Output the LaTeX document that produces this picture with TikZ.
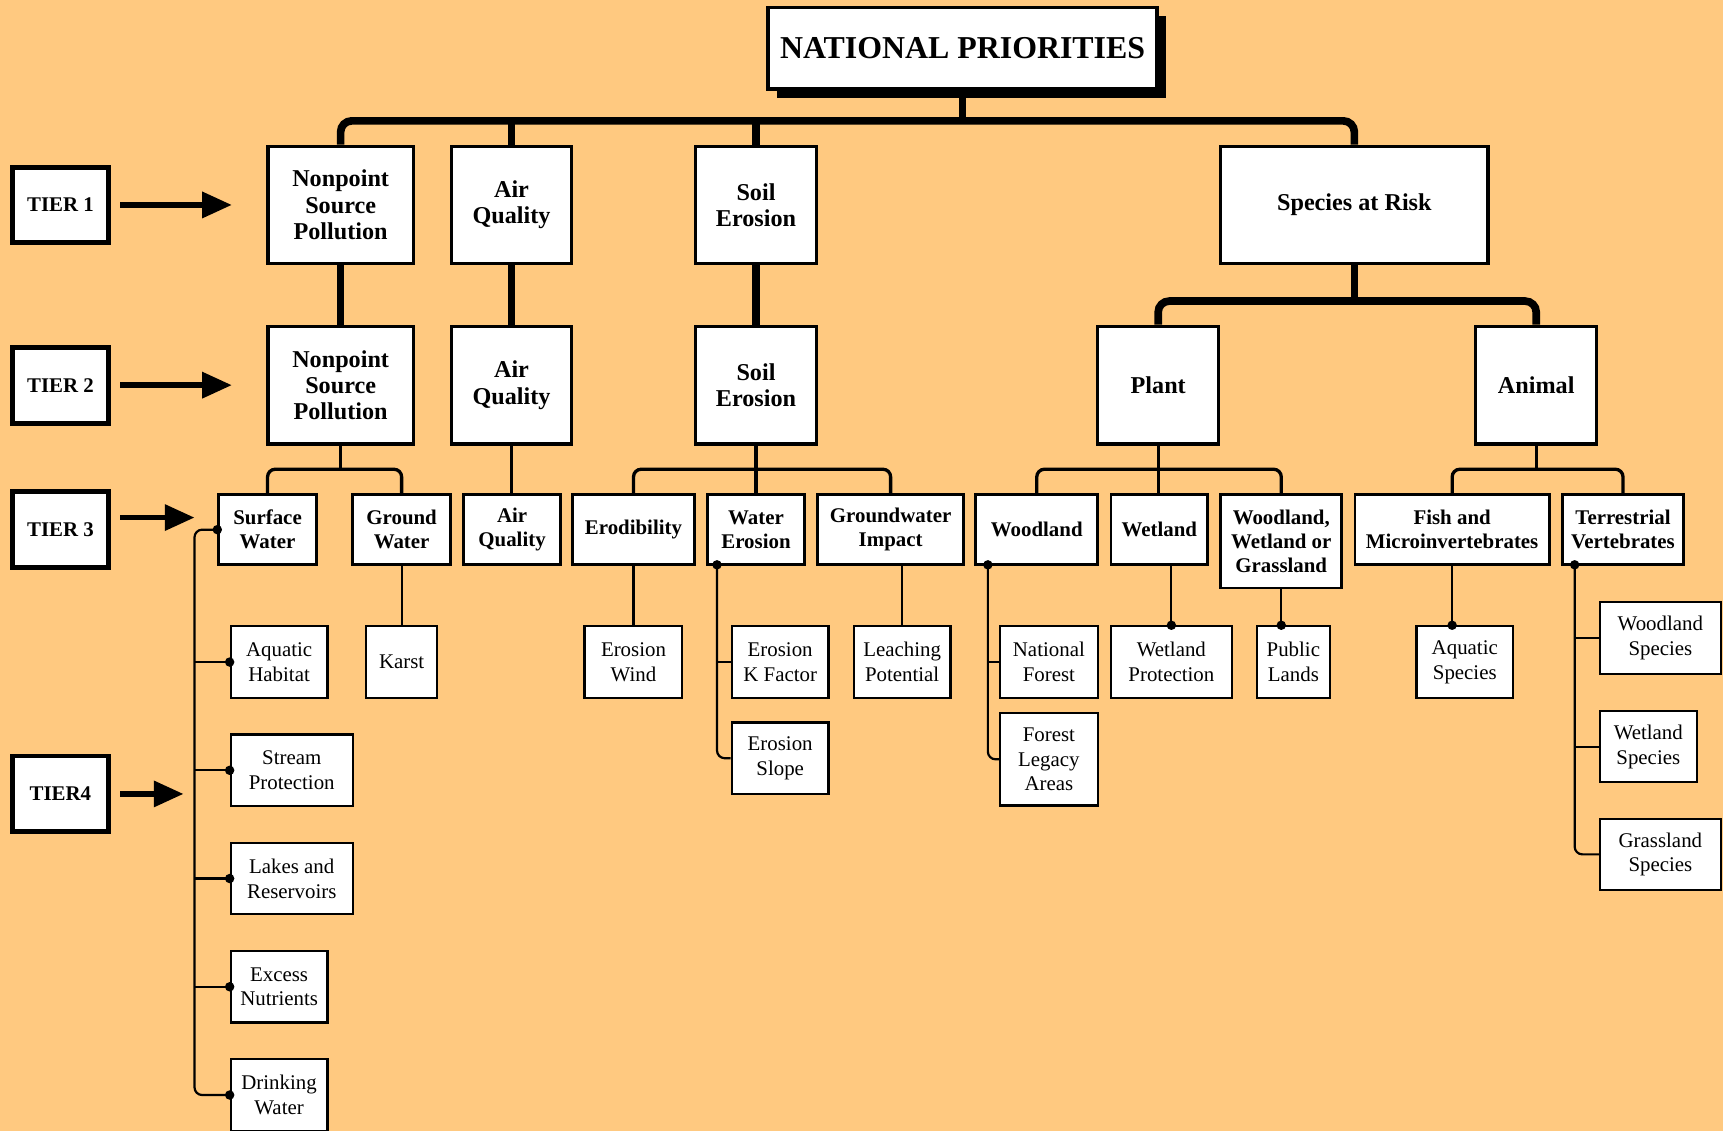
\documentclass[tikz,border=0pt]{standalone}
\usepackage{fontspec}
\setmainfont{Liberation Serif}
\usetikzlibrary{arrows.meta,shadows}
\definecolor{bgorange}{RGB}{255,201,128}
\begin{document}
\begin{tikzpicture}[x=1pt,y=-1pt]
	\tikzstyle{titlebox}=[draw, line width=3pt, fill=white, minimum width=354pt, minimum height=74pt, inner sep=0pt, font=\fontsize{29}{32}\selectfont\bfseries, drop shadow={shadow xshift=8pt, shadow yshift=-8pt, fill=black, opacity=1}]
	\tikzstyle{bigbox}=[draw, line width=3pt, fill=white, minimum height=107pt, inner sep=0pt, align=center, font=\fontsize{22}{24}\selectfont\bfseries]
	\tikzstyle{midbox}=[draw, line width=2.5pt, fill=white, minimum height=64pt, inner sep=0pt, align=center, font=\fontsize{19}{22}\selectfont\bfseries]
	\tikzstyle{smallbox}=[draw, line width=2pt, fill=white, minimum height=65pt, inner sep=0pt, align=center, font=\fontsize{19}{22.5}\selectfont]
	\tikzstyle{tierbox}=[draw, line width=4.5pt, fill=white, minimum width=88pt, minimum height=69pt, inner sep=0pt, font=\fontsize{19}{22}\selectfont\bfseries]
	\tikzstyle{tierarrow}=[line width=5pt, -{Triangle[length=27pt,width=23pt]}]
	\tikzstyle{fatline}=[line width=7pt, rounded corners=10pt]
	\tikzstyle{busline}=[line width=3pt, rounded corners=7pt]
	\tikzstyle{leafline}=[line width=2pt, rounded corners=7pt]
	\fill[bgorange] (0,0) rectangle (1568,1029);
	\useasboundingbox (0,0) rectangle (1568,1029);
	\path (876,44) node[titlebox] (natpri) {NATIONAL PRIORITIES}
	      (55,186.5) node[tierbox] (tier1) {TIER 1}
	      (55,350.5) node[tierbox] (tier2) {TIER 2}
	      (55,482) node[tierbox] (tier3) {TIER 3}
	      (55,722.5) node[tierbox] (tier4) {TIER4}
	      (310,186.5) node[bigbox, minimum width=132pt] (t1nps) {Nonpoint\\Source\\Pollution}
	      (465.5,186.5) node[bigbox, minimum width=109pt] (t1air) {Air\\Quality}
	      (688,186.5) node[bigbox, minimum width=110pt] (t1soil) {Soil\\Erosion}
	      (1232.5,186.5) node[bigbox, minimum width=243pt] (t1risk) {Species at Risk}
	      (310,350.5) node[bigbox, minimum width=132pt] (t2nps) {Nonpoint\\Source\\Pollution}
	      (465.5,350.5) node[bigbox, minimum width=109pt] (t2air) {Air\\Quality}
	      (688,350.5) node[bigbox, minimum width=110pt] (t2soil) {Soil\\Erosion}
	      (1054,350.5) node[bigbox, minimum width=110pt] (t2plant) {Plant}
	      (1398,350.5) node[bigbox, minimum width=110pt] (t2animal) {Animal};
	\path (243.5,482) node[midbox, minimum width=89pt] (surf) {Surface\\Water}
	      (365.5,482) node[midbox, minimum width=89pt] (ground) {Ground\\Water}
	      (466,482) node[midbox, minimum width=88pt] (air3) {Air\\Quality}
	      (576.5,482) node[midbox, minimum width=111pt] (erod) {Erodibility}
	      (688,482) node[midbox, minimum width=88pt] (werosion) {Water\\Erosion}
	      (810.5,482) node[midbox, minimum width=133pt] (gwimpact) {Groundwater\\Impact}
	      (943.5,482) node[midbox, minimum width=111pt] (woodland) {Woodland}
	      (1055,482) node[midbox, minimum width=88pt] (wetland) {Wetland}
	      (1166,492.5) node[midbox, minimum width=110pt, minimum height=85pt] (wwg) {Woodland,\\Wetland or\\Grassland}
	      (1321.5,482) node[midbox, minimum width=177pt] (fish) {Fish and\\Microinvertebrates}
	      (1477,482) node[midbox, minimum width=110pt] (terr) {Terrestrial\\Vertebrates};
	\path (254,602.5) node[smallbox, minimum width=88pt] (aquhab) {Aquatic\\Habitat}
	      (265.5,701) node[smallbox, minimum width=111pt] (stream) {Stream\\Protection}
	      (265.5,799.5) node[smallbox, minimum width=111pt] (lakes) {Lakes and\\Reservoirs}
	      (254,898) node[smallbox, minimum width=88pt] (excess) {Excess\\Nutrients}
	      (254,996.5) node[smallbox, minimum width=88pt] (drink) {Drinking\\Water}
	      (365.5,602.5) node[smallbox, minimum width=65pt] (karst) {Karst}
	      (576.5,602.5) node[smallbox, minimum width=89pt] (ewind) {Erosion\\Wind}
	      (710,602.5) node[smallbox, minimum width=88pt] (ekfactor) {Erosion\\K Factor}
	      (710,690) node[smallbox, minimum width=88pt] (eslope) {Erosion\\Slope}
	      (821,602.5) node[smallbox, minimum width=88pt] (leach) {Leaching\\Potential}
	      (954.5,602.5) node[smallbox, minimum width=89pt] (natfor) {National\\Forest}
	      (954.5,691) node[smallbox, minimum width=89pt, minimum height=84pt] (legacy) {Forest\\Legacy\\Areas}
	      (1066,602.5) node[smallbox, minimum width=110pt] (wetprot) {Wetland\\Protection}
	      (1177,602.5) node[smallbox, minimum width=66pt] (publands) {Public\\Lands}
	      (1333,602.5) node[smallbox, minimum width=88pt] (aquspec) {Aquatic\\Species}
	      (1511,580.5) node[smallbox, minimum width=110pt] (woodspec) {Woodland\\Species}
	      (1500,679.5) node[smallbox, minimum width=88pt] (wetspec) {Wetland\\Species}
	      (1511,777.5) node[smallbox, minimum width=110pt] (grassspec) {Grassland\\Species};
	\coordinate (a1) at (211,186.5);
	\coordinate (a2) at (211,350.5);
	\coordinate (a3) at (177,471);
	\coordinate (a4) at (167,722.5);
	\draw[tierarrow] ([xshift=8pt]tier1.east) -- (a1);
	\draw[tierarrow] ([xshift=8pt]tier2.east) -- (a2);
	\draw[tierarrow] ([xshift=8pt,yshift=11pt]tier3.east) -- (a3);
	\draw[tierarrow] ([xshift=8pt]tier4.east) -- (a4);
	\coordinate (bus0) at (876,110);
	\coordinate (bus1) at (1232.5,274);
	\draw[fatline] (natpri.south) -- (bus0);
	\draw[fatline] (t1nps.north) |- (bus0) -| (t1risk.north);
	\draw[fatline] (t1air.north) -- (t1air.north |- bus0);
	\draw[fatline] (t1soil.north) -- (t1soil.north |- bus0);
	\draw[fatline] (t1nps) -- (t2nps)
	               (t1air) -- (t2air)
	               (t1soil) -- (t2soil);
	\draw[fatline] (t1risk.south) -- (bus1);
	\draw[fatline] (t2plant.north) |- (bus1) -| (t2animal.north);
	\coordinate (bus2) at (310,427);
	\coordinate (bus3) at (688,427);
	\coordinate (bus4) at (1054,427);
	\coordinate (bus5) at (1398,427);
	\draw[busline] (t2nps.south) -- (bus2);
	\draw[busline] (surf.north) |- (bus2) -| (ground.north);
	\draw[busline] (t2air.south) -- (t2air.south |- air3.north);
	\draw[busline] (t2soil) -- (werosion);
	\draw[busline] (erod.north) |- (bus3) -| (gwimpact.north);
	\draw[busline] (t2plant.south) -- (t2plant.south |- wetland.north);
	\draw[busline] (woodland.north) |- (bus4) -| (wwg.north);
	\draw[busline] (t2animal.south) -- (bus5);
	\draw[busline] (fish.north) |- (bus5) -| (terr.north);
	\coordinate (swbus) at (177,0);
	\draw[leafline] (surf.west) -| (swbus |- drink.west) -- (drink.west);
	\draw[leafline] (swbus |- aquhab.west) -- (aquhab.west)
	                (swbus |- stream.west) -- (stream.west)
	                (swbus |- lakes.west) -- (lakes.west)
	                (swbus |- excess.west) -- (excess.west);
	\fill (surf.west) circle (4.3pt)
	      (aquhab.west) circle (4.3pt)
	      (stream.west) circle (4.3pt)
	      (lakes.west) circle (4.3pt)
	      (excess.west) circle (4.3pt)
	      (drink.west) circle (4.3pt);
	\draw[leafline] (ground) -- (karst);
	\draw[leafline] (erod) -- (ewind);
	\coordinate (webus) at (652.5,514);
	\draw[leafline] (webus) |- (eslope.west);
	\draw[leafline] (webus |- ekfactor.west) -- (ekfactor.west);
	\fill (webus) circle (4.3pt);
	\draw[leafline] (leach.north |- gwimpact.south) -- (leach.north);
	\coordinate (wdbus) at (899,514);
	\draw[leafline] (wdbus) |- (legacy.west);
	\draw[leafline] (wdbus |- natfor.west) -- (natfor.west);
	\fill (wdbus) circle (4.3pt);
	\draw[leafline] (wetprot.north |- wetland.south) -- (wetprot.north);
	\fill (wetprot.north) circle (4.3pt);
	\draw[leafline] (wwg.south) -- (wwg.south |- publands.north);
	\fill (wwg.south |- publands.north) circle (4.3pt);
	\draw[leafline] (fish.south) -- (fish.south |- aquspec.north);
	\fill (fish.south |- aquspec.north) circle (4.3pt);
	\coordinate (tvbus) at (1433,514);
	\draw[leafline] (tvbus) |- (grassspec.west);
	\draw[leafline] (tvbus |- woodspec.west) -- (woodspec.west)
	                (tvbus |- wetspec.west) -- (wetspec.west);
	\fill (tvbus) circle (4.3pt);
\end{tikzpicture}
\end{document}
